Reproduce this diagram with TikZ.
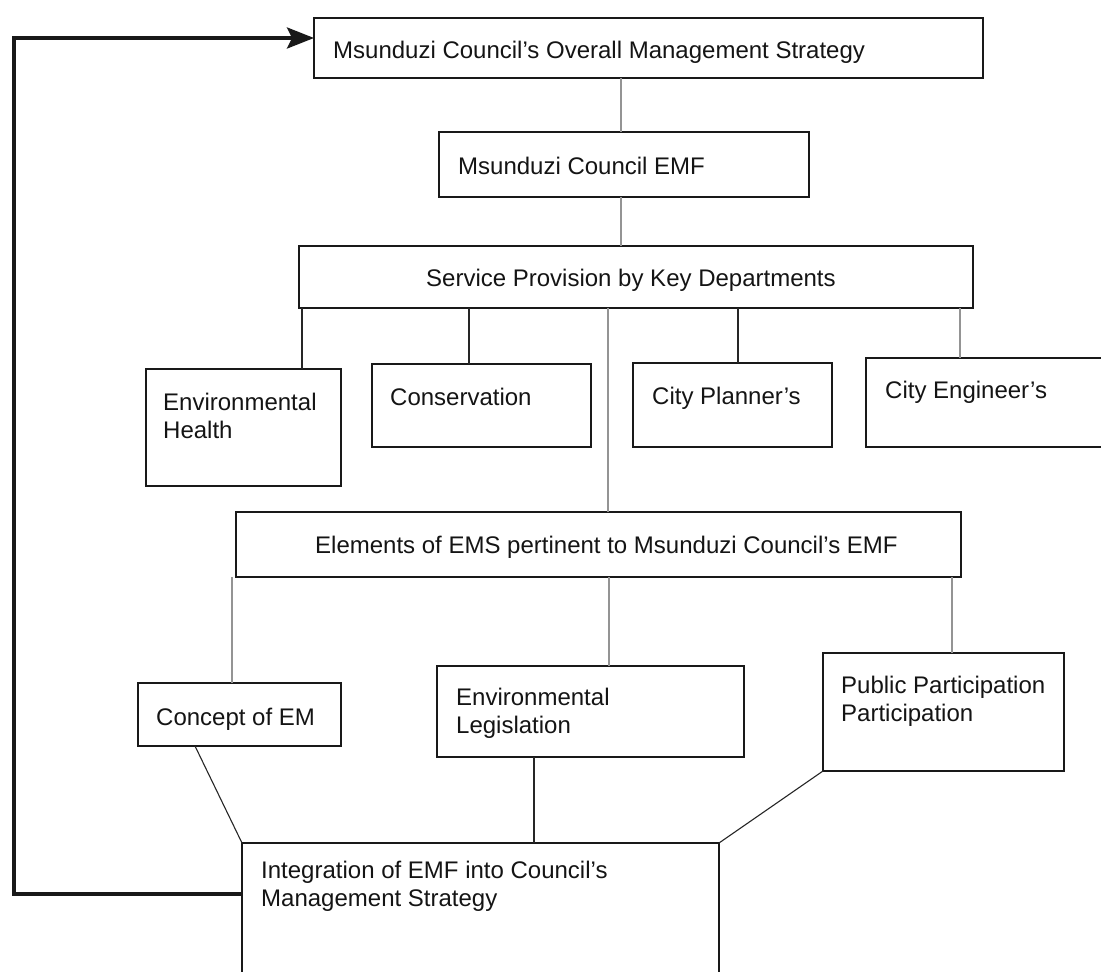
\documentclass[tikz,border=0pt]{standalone}
\usepackage{fontspec}
\setmainfont{Liberation Sans}
\usetikzlibrary{arrows.meta}
\begin{document}
\begin{tikzpicture}[x=1pt,y=-1pt,
  box/.style={draw=black!90, line width=2.2pt, rectangle, inner sep=0pt, outer sep=0pt, anchor=north west},
  txt/.style={inner sep=0pt, anchor=base west, font=\fontsize{24}{28}\selectfont, text=black!92},
  gline/.style={draw=black!42, line width=1.6pt},
  kline/.style={draw=black!85, line width=1.1pt},
  fb/.style={draw=black!90, line width=3.6pt, -{Stealth[length=27pt,width=21pt,inset=5pt]}}]
\useasboundingbox (0,0) rectangle (1101,972);
\clip (0,0) rectangle (1101,972);
% boxes
\node[box, minimum width=669pt, minimum height=60pt] (top) at (314,18) {};
\node[box, minimum width=370pt, minimum height=65pt] (emf) at (439,132) {};
\node[box, minimum width=674pt, minimum height=62pt] (serv) at (299,246) {};
\node[box, minimum width=195pt, minimum height=117pt] (envh) at (146,369) {};
\node[box, minimum width=219pt, minimum height=83pt] (cons) at (372,364) {};
\node[box, minimum width=199pt, minimum height=84pt] (plan) at (633,363) {};
\node[box, minimum width=250pt, minimum height=89pt] (eng) at (866,358) {};
\node[box, minimum width=725pt, minimum height=65pt] (elem) at (236,512) {};
\node[box, minimum width=203pt, minimum height=63pt] (conc) at (138,683) {};
\node[box, minimum width=307pt, minimum height=91pt] (leg) at (437,666) {};
\node[box, minimum width=241pt, minimum height=118pt] (pp) at (823,653) {};
\node[box, minimum width=477pt, minimum height=140pt] (integ) at (242,843) {};
% texts
\node[txt] (topT) at (333,58) {Msunduzi Council’s Overall Management Strategy};
\node[txt] (emfT) at (458,174) {Msunduzi Council EMF};
\node[txt] (servT) at (426,286) {Service Provision by Key Departments};
\node[txt] (envhT1) at (163,410) {Environmental};
\node[txt] (envhT2) at (163,438) {Health};
\node[txt] (consT) at (390,405) {Conservation};
\node[txt] (planT) at (652,404) {City Planner’s};
\node[txt] (engT) at (885,398) {City Engineer’s};
\node[txt] (elemT) at (315,553) {Elements of EMS pertinent to Msunduzi Council’s EMF};
\node[txt] (concT) at (156,725) {Concept of EM};
\node[txt] (legT1) at (456,705) {Environmental};
\node[txt] (legT2) at (456,733) {Legislation};
\node[txt] (ppT1) at (841,693) {Public Participation};
\node[txt] (ppT2) at (841,721) {Participation};
\node[txt] (integT1) at (261,878) {Integration of EMF into Council’s};
\node[txt] (integT2) at (261,906) {Management Strategy};
% connectors
\draw[gline] (top.south -| 621,0) -- (emf.north -| 621,0);
\draw[gline] (emf.south -| 621,0) -- (serv.north -| 621,0);
\draw[kline] (serv.south -| 302,0) -- (envh.north -| 302,0);
\draw[kline] (serv.south -| 469,0) -- (cons.north -| 469,0);
\draw[kline] (serv.south -| 738,0) -- (plan.north -| 738,0);
\draw[gline] (serv.south -| 960,0) -- (eng.north -| 960,0);
\draw[gline] (serv.south -| 608,0) -- (elem.north -| 608,0);
\draw[gline] (elem.south -| 232,0) -- (conc.north -| 232,0);
\draw[gline] (elem.south -| 609,0) -- (leg.north -| 609,0);
\draw[gline] (elem.south -| 952,0) -- (pp.north -| 952,0);
\draw[kline] (conc.south -| 195,0) -- (integ.north west);
\draw[kline] (leg.south -| 534,0) -- (integ.north -| 534,0);
\draw[kline] (pp.south west) -- (integ.north east);
\draw[fb] (integ.north west |- 0,894) -- ++(-228,0) |- (top.north west |- 0,38);
\end{tikzpicture}
\end{document}
